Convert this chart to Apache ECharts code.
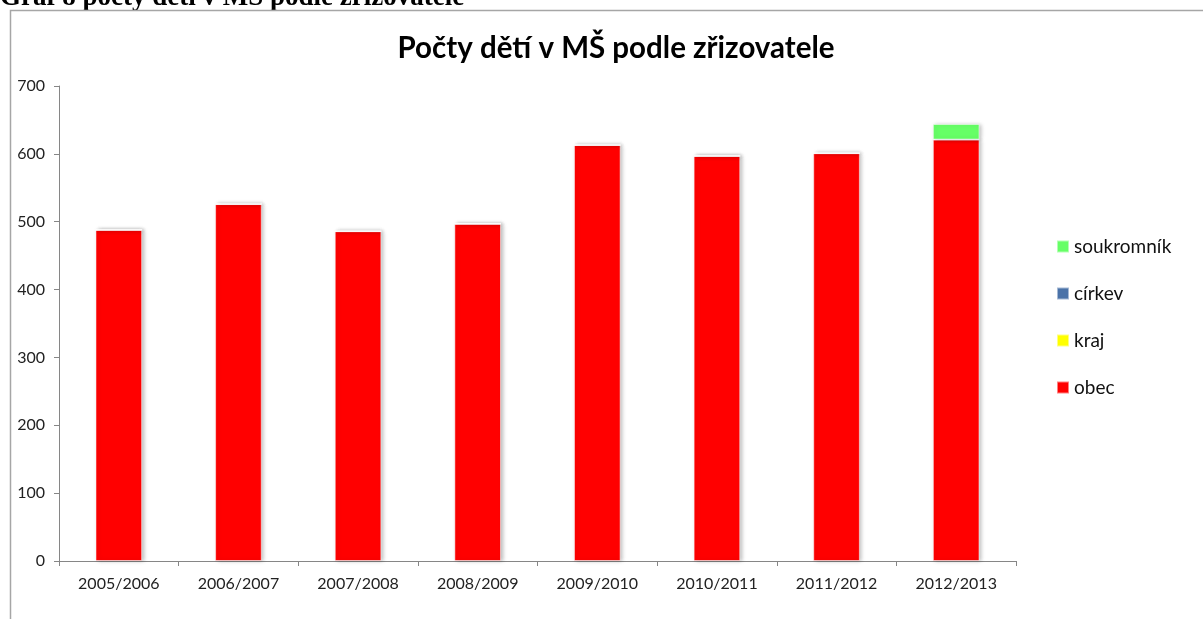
<!DOCTYPE html>
<html>
<head>
<meta charset="utf-8">
<script src="https://cdn.jsdelivr.net/npm/echarts@6/dist/echarts.min.js"></script>
<style>
  html, body { margin: 0; padding: 0; background: #fff; }
  #chart { width: 1203px; height: 619px; }
</style>
</head>
<body>
<div id="chart"></div>
<script>
const years = ['2005/2006', '2006/2007', '2007/2008', '2008/2009', '2009/2010', '2010/2011', '2011/2012', '2012/2013']
const obec = [488, 526, 486, 497, 613, 597, 601, 621]
const kraj = [0, 0, 0, 0, 0, 0, 0, 0]
const cirkev = [0, 0, 0, 0, 0, 0, 0, 0]
const soukromnik = [0, 0, 0, 0, 0, 0, 0, 23]
const yTicks = { min: 0, max: 700, step: 100 }

const font = 'Lato, "Open Sans", sans-serif'
const chart = echarts.init(document.getElementById('chart'))

// Excel-ish bar look: slight shadow to the right
function bar(name, data, color) {
  return {
    name,
    type: 'bar',
    stack: 'total',
    data,
    barWidth: '39%',
    itemStyle: {
      color,
      borderColor: 'rgba(255,255,255,0.5)',
      borderWidth: 1,
      shadowColor: 'rgba(0,0,0,0.25)',
      shadowBlur: 4,
      shadowOffsetX: 2
    }
  }
}

chart.setOption({
  animation: false,
  textStyle: { fontFamily: font },
  title: {
    text: 'Počty dětí v MŠ podle zřizovatele',
    left: 611,
    textAlign: 'center',
    top: 28,
    textStyle: { fontFamily: font, fontSize: 29.5, fontWeight: 'bold', color: '#000' }
  },
  graphic: [
    {
      type: 'text',
      left: 0,
      top: -15,
      style: {
        text: 'Graf 8 počty dětí v MŠ podle zřizovatele',
        font: 'bold 27px "Liberation Serif", "DejaVu Serif", serif',
        fill: '#000'
      }
    },
    {
      type: 'rect',
      shape: { x: 10.5, y: 10.5, width: 1200, height: 620 },
      style: { fill: 'none', stroke: '#a6a6a6', lineWidth: 1.5 },
      silent: true
    }
  ],
  legend: {
    orient: 'vertical',
    left: 1051,
    top: 232,
    itemWidth: 12,
    itemHeight: 12,
    itemGap: 28,
    icon: 'rect',
    data: ['soukromník', 'církev', 'kraj', 'obec'],
    textStyle: { fontFamily: font, fontSize: 19, color: '#111' }
  },
  grid: { left: 59, right: 187, top: 86, bottom: 58 },
  xAxis: {
    type: 'category',
    data: years,
    axisLine: { lineStyle: { color: '#868686' } },
    axisTick: { show: true, length: 5, lineStyle: { color: '#868686' } },
    axisLabel: { color: '#222', fontSize: 16, margin: 15 }
  },
  yAxis: {
    type: 'value',
    min: yTicks.min,
    max: yTicks.max,
    interval: yTicks.step,
    splitLine: { show: false },
    axisLine: { show: true, lineStyle: { color: '#868686' } },
    axisTick: { show: true, length: 5, lineStyle: { color: '#868686' } },
    axisLabel: { color: '#222', fontSize: 16, margin: 14 }
  },
  series: [
    bar('obec', obec, '#ff0000'),
    bar('kraj', kraj, '#ffff00'),
    bar('církev', cirkev, '#4a72a8'),
    bar('soukromník', soukromnik, '#66ff66')
  ]
})
</script>
</body>
</html>
